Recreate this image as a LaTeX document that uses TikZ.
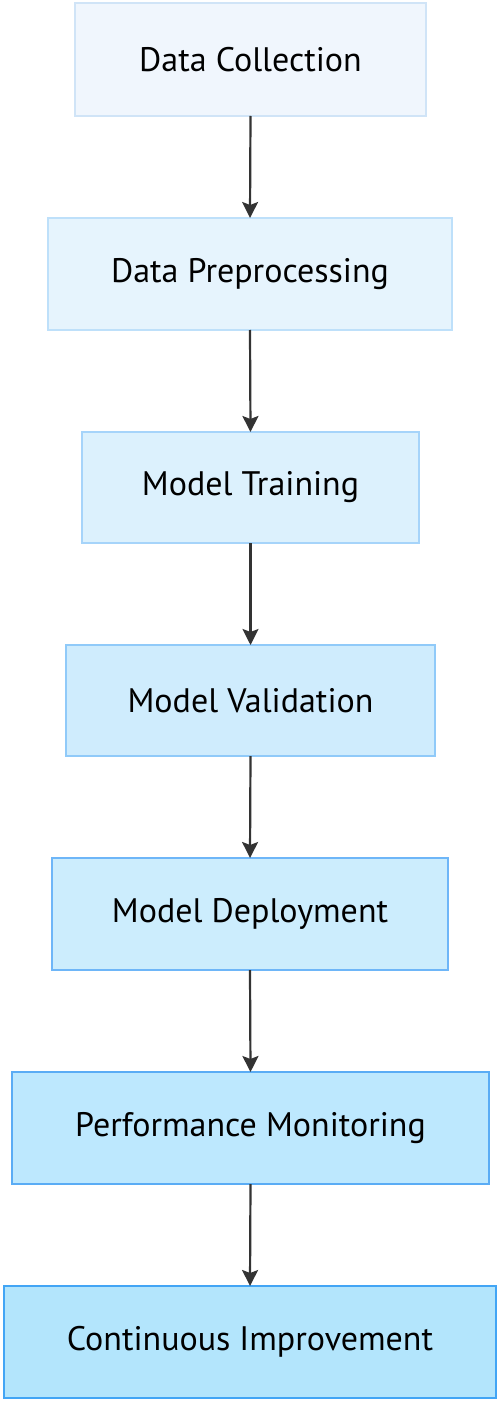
\documentclass[tikz,border=0pt]{standalone}
\usepackage{fontspec}
\setmainfont{PT Sans}
\usetikzlibrary{arrows.meta}
\definecolor{f1}{HTML}{F0F6FD}\definecolor{d1}{HTML}{D0E4F7}
\definecolor{f2}{HTML}{E6F4FD}\definecolor{d2}{HTML}{BEE0FA}
\definecolor{f3}{HTML}{DCF1FD}\definecolor{d3}{HTML}{A6D4FA}
\definecolor{f4}{HTML}{CFECFD}\definecolor{d4}{HTML}{90CAF9}
\definecolor{f5}{HTML}{CCEDFD}\definecolor{d5}{HTML}{6EB6F8}
\definecolor{f6}{HTML}{BDE8FE}\definecolor{d6}{HTML}{5AACF5}
\definecolor{f7}{HTML}{B3E5FC}\definecolor{d7}{HTML}{42A5F5}
\definecolor{arr}{HTML}{333333}
\tikzset{
  stepbox/.style={draw, line width=2pt, inner sep=0pt, outer sep=0pt, font=\fontsize{34}{38}\selectfont, text=black},
  flow/.style={draw=arr, line width=2.2pt, -{Stealth[length=16pt,width=16pt,inset=3pt]}}
}
\begin{document}
\begin{tikzpicture}[x=1pt,y=-1pt]
\useasboundingbox (0,0) rectangle (503,1404);
\node[stepbox, fill=f1, draw=d1, minimum width=351pt, minimum height=113pt] (n1) at (250.5,59.5) {Data Collection};
\node[stepbox, fill=f2, draw=d2, minimum width=404pt, minimum height=112pt] (n2) at (250,274) {Data Preprocessing};
\node[stepbox, fill=f3, draw=d3, minimum width=337pt, minimum height=111pt] (n3) at (250.5,487.5) {Model Training};
\node[stepbox, fill=f4, draw=d4, minimum width=369pt, minimum height=111pt] (n4) at (250.5,700.5) {Model Validation};
\node[stepbox, fill=f5, draw=d5, minimum width=396pt, minimum height=112pt] (n5) at (250,914) {Model Deployment};
\node[stepbox, fill=f6, draw=d6, minimum width=477pt, minimum height=112pt] (n6) at (250.5,1128) {Performance Monitoring};
\node[stepbox, fill=f7, draw=d7, minimum width=492pt, minimum height=112pt] (n7) at (250,1342) {Continuous Improvement};
\foreach \a/\b in {n1/n2,n2/n3,n3/n4,n4/n5,n5/n6,n6/n7}
  \draw[flow] (\a.south) -- (\b.north);
\end{tikzpicture}
\end{document}
